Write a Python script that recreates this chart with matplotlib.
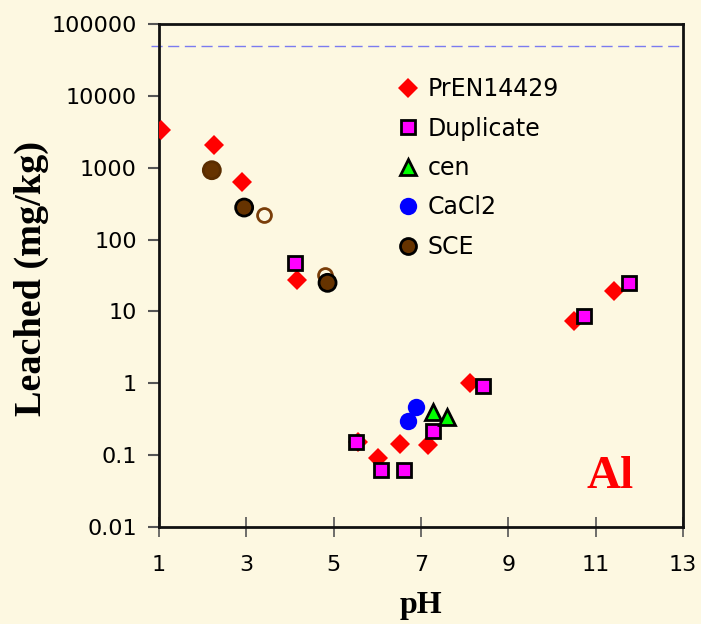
import matplotlib
matplotlib.use("Agg")
import matplotlib.pyplot as plt
from matplotlib.lines import Line2D
from matplotlib.ticker import FixedLocator, FixedFormatter, NullLocator

# Leaching of Al versus pH
pren_ph = [1.05, 2.26, 2.90, 4.16, 5.56, 6.01, 6.52, 7.17, 8.12, 10.51, 11.43]
pren_val = [3300, 2050, 630, 27, 0.15, 0.09, 0.143, 0.14, 1.0, 7.4, 19.4]

dup_ph = [4.11, 5.50, 6.08, 6.60, 7.28, 8.43, 10.74, 11.77]
dup_val = [47, 0.154, 0.063, 0.063, 0.216, 0.92, 8.7, 24.8]

cen_ph = [7.28, 7.59]
cen_val = [0.40, 0.34]

cacl_ph = [6.88, 6.71]
cacl_val = [0.47, 0.30]

sce_ph = [2.21, 2.95, 4.86]
sce_val = [923, 279, 25]
sce_edges = ["#5a2d00", "black", "black"]

sce_open_ph = [3.41, 4.81]
sce_open_val = [218, 32]

limit_val = 50000

y_ticks = [0.01, 0.1, 1, 10, 100, 1000, 10000, 100000]
y_labels = ["0.01", "0.1", "1", "10", "100", "1000", "10000", "100000"]
x_ticks = [1, 3, 5, 7, 9, 11, 13]

bg = "#FDF8E1"
brown = "#663300"

plt.rcParams["font.family"] = ["DejaVu Sans"]

fig = plt.figure(figsize=(7.01, 6.24), dpi=100, facecolor=bg)
ax = fig.add_axes([159 / 701, 97 / 624, 524 / 701, 503 / 624], facecolor=bg)

ax.set_yscale("log")
ax.set_xlim(1, 13)
ax.set_ylim(0.01, 100000)

ax.axhline(limit_val, xmin=-0.016, xmax=1, color="#7B7BF0", lw=1.0,
           dashes=(8, 4), clip_on=False, zorder=1)

ax.plot(pren_ph, pren_val, ls="none", marker="D", ms=10.5, mfc="#FF0000",
        mec="#FF0000", mew=0, zorder=3)
ax.plot(dup_ph, dup_val, ls="none", marker="s", ms=10, mfc="#FF00FF",
        mec="black", mew=2, zorder=4)
ax.plot(cen_ph, cen_val, ls="none", marker="^", ms=11, mfc="#00FF00",
        mec="black", mew=2, zorder=4)
ax.plot(cacl_ph, cacl_val, ls="none", marker="o", ms=12.5, mfc="#0000FF",
        mec="#0000FF", mew=0, zorder=4)
ax.scatter(sce_ph, sce_val, s=150, c=brown, edgecolors=sce_edges,
           linewidths=2, zorder=5)
ax.plot(sce_open_ph, sce_open_val, ls="none", marker="o", ms=10, mfc="none",
        mec="#7A3E0A", mew=2, zorder=4)

for side in ["left", "right", "top", "bottom"]:
    ax.spines[side].set_linewidth(2)
    ax.spines[side].set_color("#111111")

ax.yaxis.set_major_locator(FixedLocator(y_ticks))
ax.yaxis.set_major_formatter(FixedFormatter(y_labels))
ax.yaxis.set_minor_locator(NullLocator())
ax.set_xticks(x_ticks)
ax.set_xticklabels([str(v) for v in x_ticks])

ax.tick_params(axis="y", direction="out", length=8, width=1.5, color="#555555",
               pad=8, labelsize=16)
ax.tick_params(axis="x", direction="inout", length=14, width=1.2,
               color="#555555", pad=13.5, labelsize=16)

ax.set_xlabel("pH", family="Liberation Serif", weight="bold", fontsize=23,
              va="baseline")
ax.xaxis.set_label_coords(0.5, -0.171)
ax.set_ylabel("Leached (mg/kg)", family="Liberation Serif", weight="bold",
              fontsize=27.5, va="center")
ax.yaxis.set_label_coords(-0.244, 0.495)

ax.text(0.86, 0.10, "Al", transform=ax.transAxes, family="Liberation Serif",
        weight="bold", fontsize=34, color="#FF0000", ha="center",
        va="center")

handles = [
    Line2D([], [], ls="none", marker="D", ms=10.5, mfc="#FF0000",
           mec="#FF0000", mew=0),
    Line2D([], [], ls="none", marker="s", ms=10, mfc="#FF00FF", mec="black",
           mew=2),
    Line2D([], [], ls="none", marker="^", ms=11, mfc="#00FF00", mec="black",
           mew=2),
    Line2D([], [], ls="none", marker="o", ms=12.5, mfc="#0000FF",
           mec="#0000FF", mew=0),
    Line2D([], [], ls="none", marker="o", ms=11.5, mfc=brown, mec="black",
           mew=2),
]
labels = ["PrEN14429", "Duplicate", "cen", "CaCl2", "SCE"]
ax.legend(handles, labels, loc="upper left", bbox_to_anchor=(0.434, 0.9126),
          frameon=False, prop={"family": "DejaVu Sans", "size": 17},
          handlelength=1.0, handletextpad=0.33, labelspacing=0.65,
          borderaxespad=0)

fig.savefig("out.png", dpi=100, facecolor=bg)
